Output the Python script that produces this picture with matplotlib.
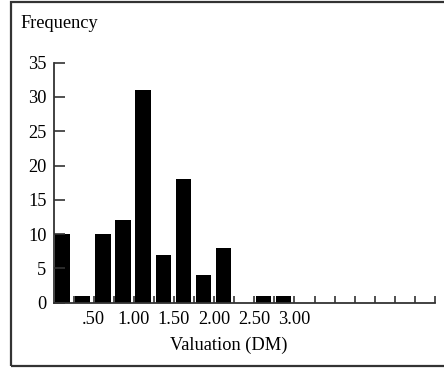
import matplotlib
matplotlib.use("Agg")
import matplotlib.pyplot as plt
from matplotlib.patches import Rectangle

plt.rcParams['font.family'] = ['Liberation Serif', 'DejaVu Serif']

# frequency per 0.25 DM bin, starting at 0
bin_start = [0.0, 0.25, 0.5, 0.75, 1.0, 1.25, 1.5, 1.75, 2.0, 2.25, 2.5, 2.75]
freq = [10, 1, 10, 12, 31, 7, 18, 4, 8, 0, 1, 1]

tick_pos = [0.25 * k for k in range(1, 20)]
tick_labels = {0.5: ".50", 1.0: "1.00", 1.5: "1.50", 2.0: "2.00", 2.5: "2.50", 3.0: "3.00"}
y_ticks = [0, 5, 10, 15, 20, 25, 30, 35]

fs = 13.2

fig = plt.figure(figsize=(4.44, 3.68), dpi=100)
ax = fig.add_axes([53.5 / 444, 65.3 / 368, 381.5 / 444, 240 / 368])

ax.bar([b + 0.02 for b in bin_start], freq, width=0.19, align='edge', color='black')

ax.set_xlim(0, 4.75)
ax.set_ylim(0, 35)
ax.set_xticks(tick_pos)
ax.set_xticklabels([tick_labels.get(round(p, 2), "") for p in tick_pos], fontsize=fs)
ax.set_yticks(y_ticks)
ax.set_yticklabels([str(v) for v in y_ticks], fontsize=fs)
ax.tick_params(axis='x', direction='in', length=5, width=1.2, color='#333333', pad=6)
ax.tick_params(axis='y', direction='in', length=8, width=1.2, color='#333333', pad=5)

for s in ['top', 'right']:
    ax.spines[s].set_visible(False)
for s in ['left', 'bottom']:
    ax.spines[s].set_color('#333333')
    ax.spines[s].set_linewidth(1.3)

fig.text(20 / 444, 1 - 28 / 368, "Frequency", fontsize=fs, ha='left', va='baseline')
fig.text(229 / 444, 1 - 350 / 368, "Valuation (DM)", fontsize=fs, ha='center', va='baseline')

fig.patches.append(Rectangle((11 / 444, 2 / 368), 1.0, 364 / 368, transform=fig.transFigure,
                             fill=False, edgecolor='#333333', linewidth=1.6))

fig.savefig("out.png", dpi=100)
